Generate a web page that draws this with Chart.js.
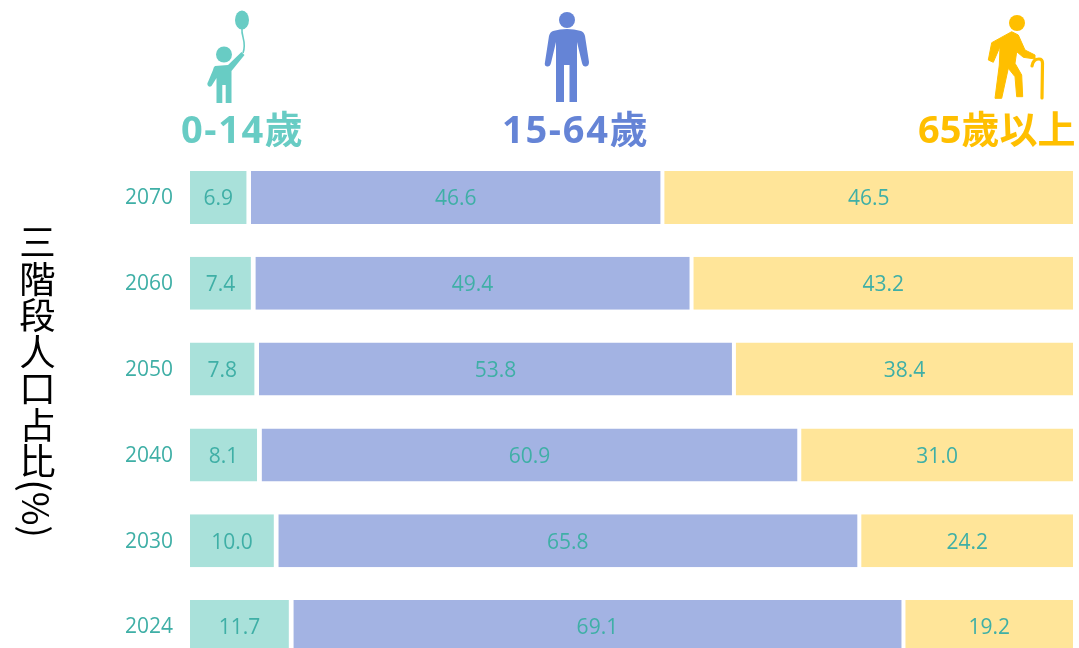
<!DOCTYPE html>
<html>
<head>
<meta charset="utf-8">
<script src="https://cdn.jsdelivr.net/npm/chart.js@4"></script>
<style>
html, body { margin: 0; padding: 0; background: #fff; }
#wrap { position: relative; width: 1079px; height: 648px; overflow: hidden; }
#chartBox { position: absolute; left: 0; top: 0; width: 1079px; height: 700px; }
#icons { position: absolute; left: 0; top: 0; }
.head { position: absolute; top: 100px; font: bold 38px "Open Sans", "Noto Sans CJK TC", sans-serif; line-height: 56px; white-space: nowrap; }
#axisTitle { position: absolute; left: 14px; top: 224px; writing-mode: vertical-rl; font: 400 36.5px "Noto Sans CJK TC", sans-serif; line-height: 46px; color: #000; white-space: nowrap; }
</style>
</head>
<body>
<div id="wrap">
  <div id="chartBox"><canvas id="popChart"></canvas></div>
  <svg id="icons" width="1079" height="648" viewBox="0 0 1079 648">
    <!-- child with balloon -->
    <g fill="#68CCC4" stroke="none">
      <ellipse cx="242" cy="20" rx="7" ry="9.5"/>
      <path d="M242 29 C241 36 247 42 243 53" fill="none" stroke="#68CCC4" stroke-width="1.6"/>
      <circle cx="224" cy="54.5" r="8"/>
      <path d="M215 66 L228 65 L241.500 52 L244.500 55 L231.500 71 L231.500 103 L225.700 103 L225.700 85 L222.300 85 L222.300 103 L216.500 103 L216.500 78 L211.500 86 Q209 88 207.500 85 Q207 83 208 82 L213 70 Q213.500 67 215 66 Z"/>
    </g>
    <!-- adult -->
    <g fill="#6584D6">
      <circle cx="567" cy="20" r="8"/>
      <path d="M553 31 Q567 27 581 31 Q584 32 585 36 L589 62 Q589 66 586 66.500 Q583 67 582 63 L577 42 L577 102 L569.500 102 L569.500 65 L564 65 L564 102 L556 102 L556 42 L551 63 Q550 67 547 66.500 Q544 66 545 62 L549 36 Q550 32 553 31 Z"/>
    </g>
    <!-- elder with cane -->
    <g fill="#FFBF00">
      <circle cx="1017" cy="23" r="8"/>
      <path d="M991.700 42.700 L1011.700 31.700 L1018.300 35 L1025 50 L1035 55 L1035 59 L1023.300 57.300 L1016.700 51.700 L1015 63.300 L1021.700 75 L1022.700 96.700 L1016.700 96.700 L1015 76.700 L1008.300 68.300 L1001.700 98.300 L995 98.300 L999.300 65 L1000 46.700 L993.300 62.300 L988.300 60 Z" stroke="#FFBF00" stroke-width="1" stroke-linejoin="round"/>
      <path d="M1032 66 Q1033 59 1039 59 Q1042.500 59 1042.500 63 L1042 98" fill="none" stroke="#FFBF00" stroke-width="3.200" stroke-linecap="round"/>
    </g>
  </svg>
  <div id="axisTitle">三階段人口占比(%)</div>
</div>
<script>
// Data
const years = ['2070', '2060', '2050', '2040', '2030', '2024'];
const age0to14 = [6.9, 7.4, 7.8, 8.1, 10.0, 11.7];
const age15to64 = [46.6, 49.4, 53.8, 60.9, 65.8, 69.1];
const age65up = [46.5, 43.2, 38.4, 31.0, 24.2, 19.2];
const groupNames = ['0-14歲', '15-64歲', '65歲以上'];

// Header labels over the columns
const headColors = ['#68CCC4', '#6584D6', '#FFBF00'];
const headLeft = [181, 502, 918];
const headSpacing = [1.6, 1.7, 0];
groupNames.forEach((name, i) => {
    const el = document.createElement('div');
    el.className = 'head';
    el.textContent = name;
    el.style.left = headLeft[i] + 'px';
    el.style.color = headColors[i];
    el.style.letterSpacing = headSpacing[i] + 'px';
    document.getElementById('wrap').appendChild(el);
});

// White seams between the segments
const seams = [
    { left: 0, right: 4.5 },
    { left: 0, right: 2 },
    { left: 2, right: 0 }
];

// Value labels in the middle of each visible segment
const valueLabels = {
    id: 'valueLabels',
    afterDatasetsDraw(chart) {
        const ctx = chart.ctx;
        ctx.save();
        ctx.font = '21px "Open Sans", sans-serif';
        ctx.fillStyle = '#3FAFA6';
        ctx.textAlign = 'center';
        ctx.textBaseline = 'middle';
        chart.data.datasets.forEach((ds, i) => {
            const shift = (seams[i].left - seams[i].right) / 2;
            chart.getDatasetMeta(i).data.forEach((bar, j) => {
                const p = bar.getProps(['x', 'y', 'base']);
                ctx.fillText(ds.data[j].toFixed(1), (p.x + p.base) / 2 + shift, p.y + 2);
            });
        });
        ctx.restore();
    }
};

const ctx = document.getElementById('popChart').getContext('2d');
new Chart(ctx, {
    type: 'bar',
    data: {
        labels: years,
        datasets: [
            { label: groupNames[0], data: age0to14, backgroundColor: '#A9E1DA', borderWidth: seams[0] },
            { label: groupNames[1], data: age15to64, backgroundColor: '#A3B3E3', borderWidth: seams[1] },
            { label: groupNames[2], data: age65up, backgroundColor: '#FFE599', borderWidth: seams[2] }
        ]
    },
    options: {
        indexAxis: 'y',
        responsive: true,
        maintainAspectRatio: false,
        animation: false,
        layout: { padding: { left: 0, right: 6, top: 154.6, bottom: 30.6 } },
        datasets: {
            bar: {
                categoryPercentage: 1,
                barPercentage: 0.618,
                borderColor: '#ffffff',
                borderSkipped: false
            }
        },
        plugins: {
            legend: { display: false },
            tooltip: { enabled: false }
        },
        scales: {
            x: {
                stacked: true,
                min: 0,
                max: 100,
                display: false
            },
            y: {
                stacked: true,
                afterFit: (axis) => { axis.width = 190; },
                grid: { display: false, drawTicks: false },
                border: { display: false },
                ticks: {
                    color: '#3FAFA6',
                    padding: 17,
                    labelOffset: 1,
                    font: { family: '"Open Sans", sans-serif', size: 21 }
                }
            }
        }
    },
    plugins: [valueLabels]
});
</script>
</body>
</html>
